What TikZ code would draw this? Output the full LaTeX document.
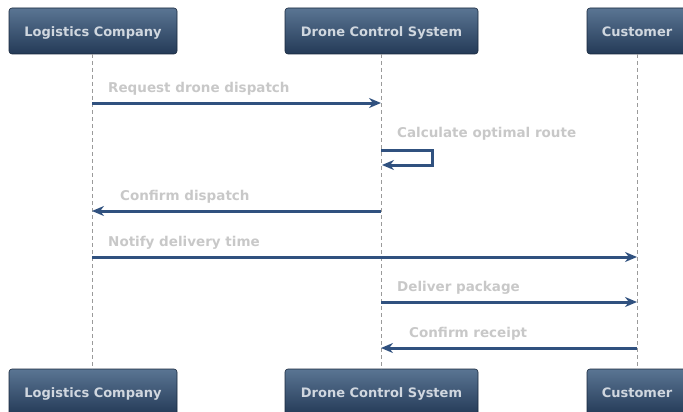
\documentclass[tikz,border=0pt]{standalone}
\usepackage{fontspec}
\setmainfont{DejaVu Sans}
\usetikzlibrary{arrows.meta}
\definecolor{boxtop}{HTML}{5A7593}
\definecolor{boxbot}{HTML}{243A57}
\definecolor{boxtxt}{HTML}{D0D7DF}
\definecolor{msgcol}{HTML}{30517F}
\definecolor{lblcol}{HTML}{C8C8C8}
\definecolor{lifecol}{HTML}{9A9A9A}
\tikzset{
  actor/.style={draw=boxbot!70!black, line width=0.6pt, rounded corners=3pt, top color=boxtop, bottom color=boxbot, text=boxtxt, font=\fontsize{13}{15}\selectfont\bfseries, minimum height=46pt, inner xsep=6pt, text height=11.5pt, text depth=0.5pt, anchor=center},
  life/.style={draw=lifecol, dash pattern=on 4pt off 3pt, line width=1pt},
  msg/.style={draw=msgcol, line width=3pt, -{Stealth[length=12pt,width=10pt]}},
  lbl/.style={text=lblcol, font=\fontsize{13.5}{15}\selectfont\bfseries, anchor=base west, inner sep=0pt}
}
\begin{document}
\begin{tikzpicture}[x=1pt,y=-1pt]
\useasboundingbox (0,0) rectangle (683,412);
\node[actor, minimum width=168pt] (lt) at (93,31) {Logistics Company};
\node[actor, minimum width=193pt] (dt) at (381.5,31) {Drone Control System};
\node[actor, minimum width=100pt] (ct) at (637,31) {Customer};
\node[actor, minimum width=168pt] (lb) at (93,392) {Logistics Company};
\node[actor, minimum width=193pt] (db) at (381.5,392) {Drone Control System};
\node[actor, minimum width=100pt] (cb) at (637,392) {Customer};
\draw[life] (92,54) -- (92,369);
\draw[life] (381,54) -- (381,369);
\draw[life] (637,54) -- (637,369);
\coordinate (m1a) at (92,103); \coordinate (m1b) at (381,103);
\draw[msg] (m1a) -- (m1b);
\node[lbl] (t1) at (108,92.5) {Request drone dispatch};
\coordinate (s1) at (381,150); \coordinate (s2) at (432,150); \coordinate (s3) at (432,165); \coordinate (s4) at (382,165);
\draw[msg] (s1) -- (s2) -- (s3) -- (s4);
\node[lbl] (t2) at (397,137.5) {Calculate optimal route};
\coordinate (m3a) at (381,211); \coordinate (m3b) at (92,211);
\draw[msg] (m3a) -- (m3b);
\node[lbl] (t3) at (120,200.5) {Confirm dispatch};
\coordinate (m4a) at (92,257); \coordinate (m4b) at (637,257);
\draw[msg] (m4a) -- (m4b);
\node[lbl] (t4) at (108,246.5) {Notify delivery time};
\coordinate (m5a) at (381,302); \coordinate (m5b) at (637,302);
\draw[msg] (m5a) -- (m5b);
\node[lbl] (t5) at (397,291.5) {Deliver package};
\coordinate (m6a) at (637,348); \coordinate (m6b) at (381,348);
\draw[msg] (m6a) -- (m6b);
\node[lbl] (t6) at (409,337.5) {Confirm receipt};
\end{tikzpicture}
\end{document}
